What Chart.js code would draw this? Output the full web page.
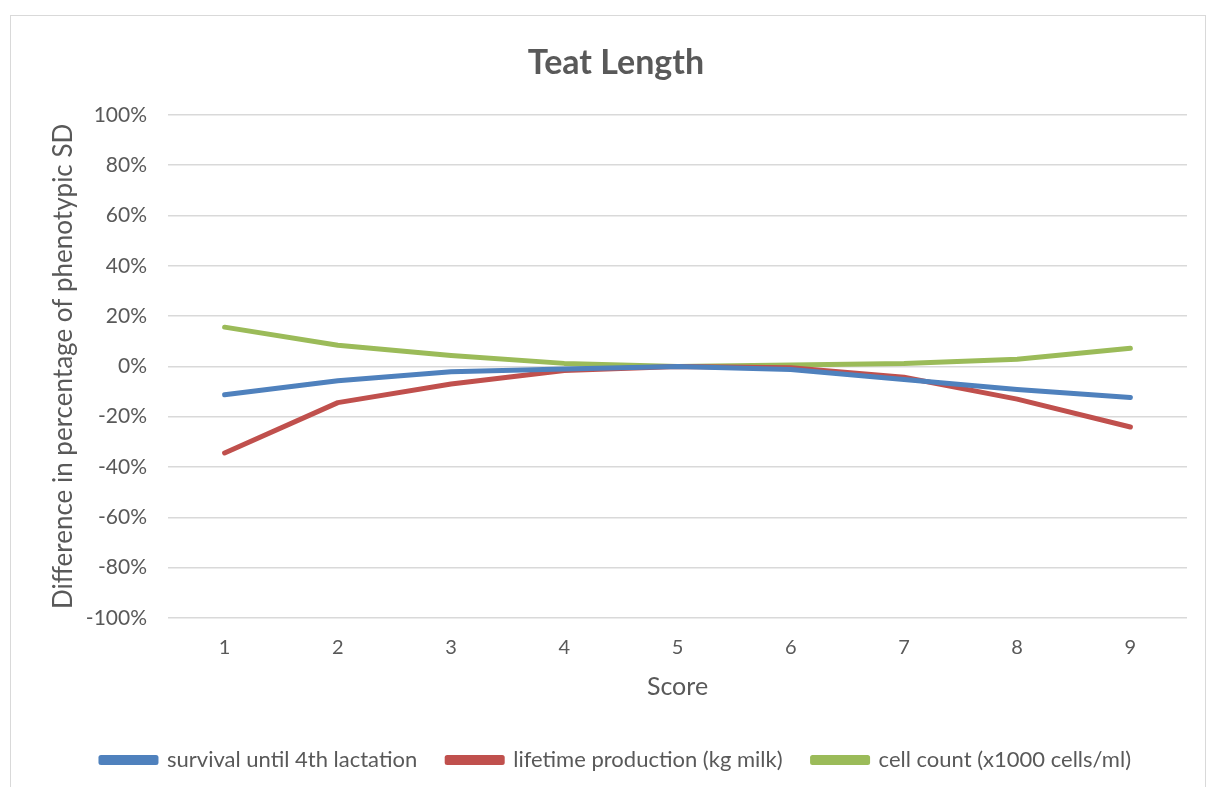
<!DOCTYPE html>
<html>
<head>
<meta charset="utf-8">
<script src="https://cdn.jsdelivr.net/npm/chart.js@4/dist/chart.umd.min.js"></script>
<style>
  html, body { margin: 0; padding: 0; background: #fff; }
  #frame {
    position: absolute; left: 10px; top: 15px;
    width: 1196px; height: 780px;
    border: 1px solid #d9d9d9;
    box-sizing: border-box;
  }
  #wrap { position: absolute; left: 1px; top: 1px; width: 1194px; height: 771px; }
</style>
</head>
<body>
<div id="frame"><div id="wrap"><canvas id="teatChart"></canvas></div></div>
<script>
// ── data ──
const scores    = ['1', '2', '3', '4', '5', '6', '7', '8', '9'];
const survival  = [-11.3, -5.7, -2.1, -1.0, 0, -1.2, -5.2, -9.2, -12.4];
const lifetime  = [-34.4, -14.4, -7.0, -1.6, 0, -0.5, -4.3, -13.0, -24.1];
const cellCount = [15.6, 8.4, 4.3, 1.2, 0, 0.6, 1.2, 2.8, 7.2];

const textCol = '#595959';
const gridCol = '#d9d9d9';
const font    = 'Lato, "Open Sans", sans-serif';

document.addEventListener('DOMContentLoaded', function () {
    const ctx = document.getElementById('teatChart');

    new Chart(ctx, {
        type: 'line',
        data: {
            labels: scores,
            datasets: [
                { label: 'survival until 4th lactation', data: survival,
                  borderColor: '#4f81bd', backgroundColor: '#4f81bd' },
                { label: 'lifetime production (kg milk)', data: lifetime,
                  borderColor: '#c0504d', backgroundColor: '#c0504d' },
                { label: 'cell count (x1000 cells/ml)', data: cellCount,
                  borderColor: '#9bbb59', backgroundColor: '#9bbb59' }
            ]
        },
        options: {
            responsive: true,
            maintainAspectRatio: false,
            animation: false,
            elements: {
                line: { borderWidth: 5, tension: 0, borderCapStyle: 'round', borderJoinStyle: 'round' },
                point: { radius: 0 }
            },
            layout: { padding: { left: 33, right: 19, top: 0, bottom: 7 } },
            plugins: {
                title: {
                    display: true,
                    text: 'Teat Length',
                    color: textCol,
                    font: { family: font, size: 34, weight: 'bold' },
                    padding: { top: 26, bottom: 31 }
                },
                legend: {
                    position: 'bottom',
                    labels: {
                        color: textCol,
                        font: { family: font, size: 22 },
                        boxWidth: 55,
                        boxHeight: 5,
                        padding: 30
                    }
                },
                tooltip: { enabled: false }
            },
            scales: {
                x: {
                    offset: true,
                    grid: { display: false },
                    border: { display: false },
                    ticks: { color: textCol, font: { family: font, size: 20 }, padding: 10 },
                    title: {
                        display: true, text: 'Score', color: textCol,
                        font: { family: font, size: 25 },
                        padding: 17
                    },
                    afterFit: s => { s.height = 101; }
                },
                y: {
                    min: -100,
                    max: 100,
                    grid: { color: gridCol, lineWidth: 1.5, drawTicks: false },
                    border: { display: false },
                    ticks: {
                        stepSize: 20,
                        color: textCol,
                        font: { family: font, size: 21 },
                        padding: 21,
                        callback: v => v + '%'
                    },
                    title: {
                        display: true, text: 'Difference in percentage of phenotypic SD',
                        color: textCol,
                        font: { family: font, size: 26 },
                        padding: 3
                    },
                    afterFit: s => { s.width = 123; }
                }
            }
        }
    });
});
</script>
</body>
</html>
